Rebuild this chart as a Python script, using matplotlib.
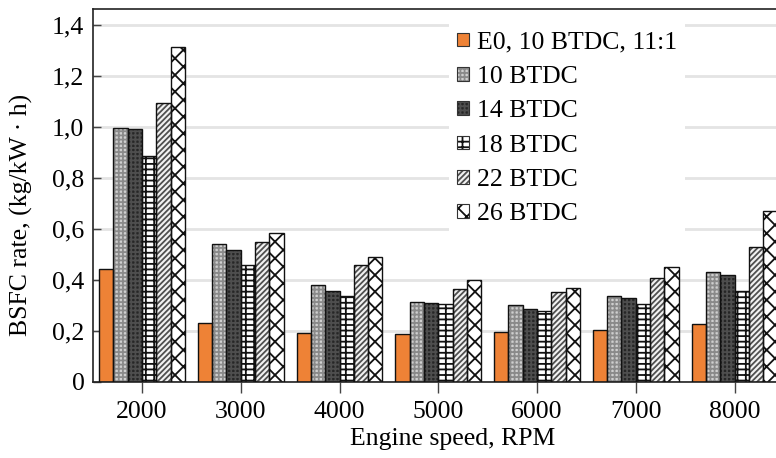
import matplotlib
matplotlib.use("Agg")
import matplotlib.pyplot as plt
from matplotlib.patches import Patch
from matplotlib.legend_handler import HandlerTuple
from matplotlib.ticker import FixedLocator, FuncFormatter

speeds = [2000, 3000, 4000, 5000, 6000, 7000, 8000]
series_names = ["E0, 10 BTDC, 11:1", "10 BTDC", "14 BTDC", "18 BTDC", "22 BTDC", "26 BTDC"]
e0 = [0.443, 0.229, 0.190, 0.187, 0.193, 0.203, 0.227]
btdc10 = [0.994, 0.540, 0.381, 0.312, 0.300, 0.336, 0.429]
btdc14 = [0.990, 0.515, 0.355, 0.309, 0.286, 0.328, 0.417]
btdc18 = [0.885, 0.459, 0.338, 0.305, 0.277, 0.305, 0.354]
btdc22 = [1.096, 0.547, 0.456, 0.364, 0.351, 0.406, 0.530]
btdc26 = [1.312, 0.583, 0.489, 0.400, 0.368, 0.450, 0.670]
yticks = [0, 0.2, 0.4, 0.6, 0.8, 1.0, 1.2, 1.4]

series = [e0, btdc10, btdc14, btdc18, btdc22, btdc26]
# (face, hatch, hatch colour)
styles = [
    ("#ee8236", None, "#ee8236"),
    ("#cfcfcf", "++++", "#8a8a8a"),
    ("#262626", "++++", "#4e4e4e"),
    ("#ffffff", "---||", "#111111"),
    ("#f2f2f2", "//////", "#505050"),
    ("#ffffff", "xx", "#111111"),
]

plt.rcParams["font.family"] = ["Liberation Serif", "DejaVu Serif"]
plt.rcParams["hatch.linewidth"] = 1.3

fig = plt.figure(figsize=(7.76, 4.58), dpi=100)
ax = fig.add_axes([0.1195, 0.1668, 0.8805, 0.8129])

width = 145
handles = []
for i, (vals, (fc, hatch, hc)) in enumerate(zip(series, styles)):
    xs = [s + (i - 2.5) * width for s in speeds]
    ax.bar(xs, vals, width=width, color=fc, edgecolor=hc, hatch=hatch,
           linewidth=0, zorder=2)
    ax.bar(xs, vals, width=width, facecolor="none", edgecolor="#111111",
           linewidth=1.0, zorder=3)
    h1 = Patch(facecolor=fc, edgecolor=hc, hatch=hatch, linewidth=0)
    h2 = Patch(facecolor="none", edgecolor="#333333", linewidth=0.8)
    handles.append((h1, h2))

ax.set_xlim(1501, 8420)
ax.set_ylim(0, 1.462)
ax.set_xticks(speeds)
ax.set_xticklabels([str(s) for s in speeds])
ax.yaxis.set_major_locator(FixedLocator(yticks))
ax.yaxis.set_major_formatter(FuncFormatter(
    lambda v, p: "0" if abs(v) < 1e-9 else f"{v:.1f}".replace(".", ",")))

ax.grid(axis="y", color="#e4e4e4", linewidth=2.0, zorder=0)
ax.set_axisbelow(True)
ax.tick_params(axis="y", direction="in", length=6, width=1, color="#444444",
               labelsize=18.5, pad=6)
ax.tick_params(axis="x", direction="out", length=8, width=1, color="#444444",
               labelsize=18.5, pad=6)
for s in ["left", "bottom", "top"]:
    ax.spines[s].set_color("#222222")
    ax.spines[s].set_linewidth(1.2)
ax.spines["right"].set_visible(False)

ax.set_xlabel("Engine speed, RPM", fontsize=18.5)
ax.set_ylabel("BSFC rate, (kg/kW · h)", fontsize=18.5)
ax.xaxis.set_label_coords(0.526, -0.125)
ax.yaxis.set_label_coords(-0.088, 0.447)

leg = ax.legend(handles, series_names, handler_map={tuple: HandlerTuple(ndivide=1, pad=0)},
                loc="upper left", bbox_to_anchor=(0.503, 0.995), fontsize=18.5,
                frameon=True, facecolor="white", edgecolor="none", framealpha=1,
                handlelength=0.45, handleheight=0.45, handletextpad=0.34,
                labelspacing=0.48, borderpad=0.3, fancybox=False)
leg.set_zorder(5)

fig.savefig("out.png", dpi=100)
